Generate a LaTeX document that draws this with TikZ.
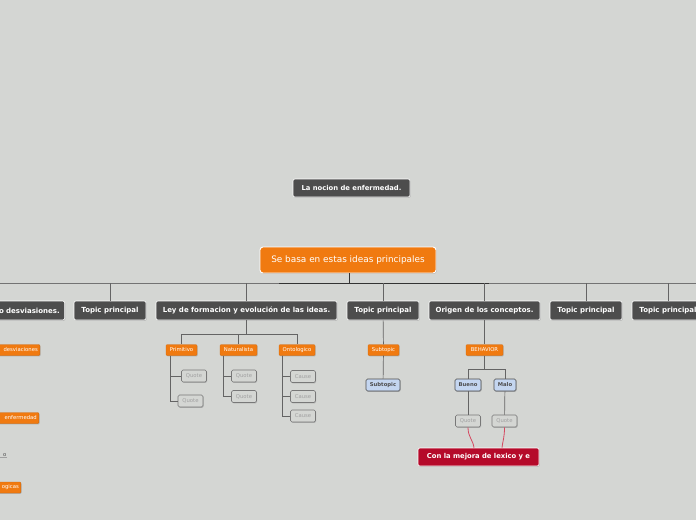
\documentclass[tikz,border=0pt]{standalone}
\usepackage{fontspec}
\setmainfont{DejaVu Sans}
\usetikzlibrary{shadows}
\definecolor{bg}{RGB}{212,214,211}
\definecolor{dk}{RGB}{77,77,77}
\definecolor{org}{RGB}{240,122,16}
\definecolor{rd}{RGB}{181,10,42}
\definecolor{bl}{RGB}{196,214,240}
\definecolor{ln}{RGB}{100,100,100}
\definecolor{qb}{RGB}{120,120,120}
\definecolor{qt}{RGB}{160,160,160}
\definecolor{rl}{RGB}{212,72,96}
\tikzset{
 shad/.style={drop shadow={shadow xshift=0.7pt, shadow yshift=-0.8pt, fill=black!40, opacity=0.6}},
 topic/.style={shad, draw=white, line width=0.6pt, fill=dk, rounded corners=2pt, text=white,
   font=\bfseries\fontsize{7}{8}\selectfont, minimum height=19pt, inner xsep=3pt, inner ysep=0pt},
 rootbox/.style={shad, draw=white, line width=0.9pt, fill=org, rounded corners=3pt, text=white,
   font=\fontsize{8.9}{10}\selectfont, minimum height=26pt, minimum width=176pt, inner ysep=0pt},
 orgs/.style={shad, draw=org!85!black, line width=0.3pt, fill=org, rounded corners=1pt, text=white,
   font=\fontsize{5.3}{6}\selectfont, minimum height=11pt, inner xsep=2pt, inner ysep=0pt},
 quote/.style={shad, draw=qb, line width=0.6pt, fill=bg, rounded corners=1.5pt, text=qt,
   font=\fontsize{5.3}{6}\selectfont, minimum height=12pt, minimum width=25pt, inner xsep=1pt, inner ysep=0pt},
 blue/.style={shad, draw=dk, line width=0.6pt, fill=bl, rounded corners=1.5pt, text=dk,
   font=\bfseries\fontsize{5.3}{6}\selectfont, minimum height=12pt, inner xsep=1.5pt, inner ysep=0pt},
 redbox/.style={shad, draw=white, line width=0.6pt, fill=rd, rounded corners=2pt, text=white,
   font=\bfseries\fontsize{6.8}{8}\selectfont, minimum height=18pt, minimum width=121pt, inner ysep=0pt},
 conn/.style={draw=ln, line width=0.7pt},
 busc/.style={draw=black!80, line width=0.9pt},
 redc/.style={draw=rl, line width=0.8pt},
}
\begin{document}
\begin{tikzpicture}[x=1pt,y=-1pt]
\fill[bg] (0,0) rectangle (696,520);
\clip (0,0) rectangle (696,520);

% top nodes
\node[topic, minimum width=117pt, minimum height=18pt, font=\bfseries\fontsize{6.8}{8}\selectfont] (nocion) at (351.5,188) {La nocion de enfermedad.};
\node[rootbox] (root) at (348,260) {Se basa en estas ideas principales};

% bus
\coordinate (busL) at (-20,283);
\coordinate (busR) at (716,283);
\coordinate (busM) at (349,283);
\draw[conn, draw=black!55] (busL) -- (busR);
\draw[busc] (root.south -| busM) -- (busM);
\draw[busc] ([xshift=-70pt]busM) -- ([xshift=140pt]busM);

% topics
\node[topic, anchor=east, text width=140pt, align=right, inner xsep=5pt] (t0) at (65,310.5) {o desviasiones.};
\node[topic, minimum width=72pt] (t1) at (110,310.5) {Topic principal};
\node[topic, minimum width=181pt] (ley) at (246.5,310.5) {Ley de formacion y evolución de las ideas.};
\node[topic, minimum width=72pt] (t2) at (383,310.5) {Topic principal};
\node[topic, minimum width=111pt] (orig) at (484.5,310.5) {Origen de los conceptos.};
\node[topic, minimum width=72pt] (t3) at (586,310.5) {Topic principal};
\node[topic, minimum width=72pt] (t4) at (668,310.5) {Topic principal};

\foreach \n in {t1,ley,t2,orig,t3,t4}{
  \draw[conn] (\n.north |- busM) -- (\n.north);
}

% left (cut off) children
\node[orgs, anchor=east, text width=60pt, align=right] (ld) at (40,350) {desviaciones};
\node[orgs, anchor=east, text width=60pt, align=right] (le) at (39,418) {enfermedad};
\node[inner sep=0.5pt, anchor=south east, text=dk, font=\fontsize{5.3}{6}\selectfont] (lo) at (7,457) {o};
\draw[draw=qt, line width=0.8pt] (lo.south east) -- ++(-20,0);
\node[orgs, anchor=east, text width=40pt, align=right] (lg) at (21,487.5) {ogicas};

% Ley children
\node[orgs, minimum width=31pt] (prim) at (181.5,350) {Primitivo};
\node[orgs, minimum width=37pt] (nat) at (238.5,350) {Naturalista};
\node[orgs, minimum width=36pt] (onto) at (297,350) {Ontologico};
\draw[conn] (ley.south) -- ++(0,14.5) -| (prim.north);
\draw[conn] (ley.south) -- ++(0,14.5) -| (nat.north);
\draw[conn] (ley.south) -- ++(0,14.5) -| (onto.north);

\node[quote] (pq1) at (194,376) {Quote};
\node[quote] (pq2) at (190.5,401) {Quote};
\draw[conn] ([xshift=4pt]prim.south west) |- (pq1.west);
\draw[conn] ([xshift=4pt]prim.south west) |- (pq2.west);

\node[quote] (nq1) at (244,376) {Quote};
\node[quote] (nq2) at (244,396.5) {Quote};
\draw[conn] ([xshift=3pt]nat.south west) |- (nq1.west);
\draw[conn] ([xshift=3pt]nat.south west) |- (nq2.west);

\node[quote] (oc1) at (303,376.5) {Cause};
\node[quote] (oc2) at (303,396.5) {Cause};
\node[quote] (oc3) at (303,416) {Cause};
\draw[conn] ([xshift=3pt]onto.south west) |- (oc1.west);
\draw[conn] ([xshift=3pt]onto.south west) |- (oc2.west);
\draw[conn] ([xshift=3pt]onto.south west) |- (oc3.west);

% Topic principal children
\node[orgs, minimum width=31pt] (sub1) at (383.5,350) {Subtopic};
\node[blue, minimum width=34pt] (sub2) at (383,385) {Subtopic};
\draw[conn] (t2) -- (sub1);
\draw[conn] (sub1) -- (sub2);

% Origen children
\node[orgs, minimum width=37pt] (beh) at (484.5,350) {BEHAVIOR};
\draw[conn] (orig) -- (beh);
\node[blue, minimum width=26pt] (bueno) at (468,385) {Bueno};
\node[blue, minimum width=22pt] (malo) at (505,385) {Malo};
\draw[conn] (beh.south) -- ++(0,14) -| (bueno.north);
\draw[conn] (beh.south) -- ++(0,14) -| (malo.north);
\node[quote] (qbu) at (468,421) {Quote};
\node[quote] (qma) at (504.5,421) {Quote};
\draw[conn] (bueno) -- (qbu);
\draw[conn] (malo) -- (qma);

\node[redbox] (con) at (478.5,457) {Con la mejora de lexico y e};
\draw[redc] (qbu.south) .. controls +(0,10) and +(-1,-8) .. ([xshift=-4.5pt]con.north);
\draw[redc] (qma.south) .. controls +(0,10) and +(1,-8) .. ([xshift=23.5pt]con.north);
\end{tikzpicture}
\end{document}
